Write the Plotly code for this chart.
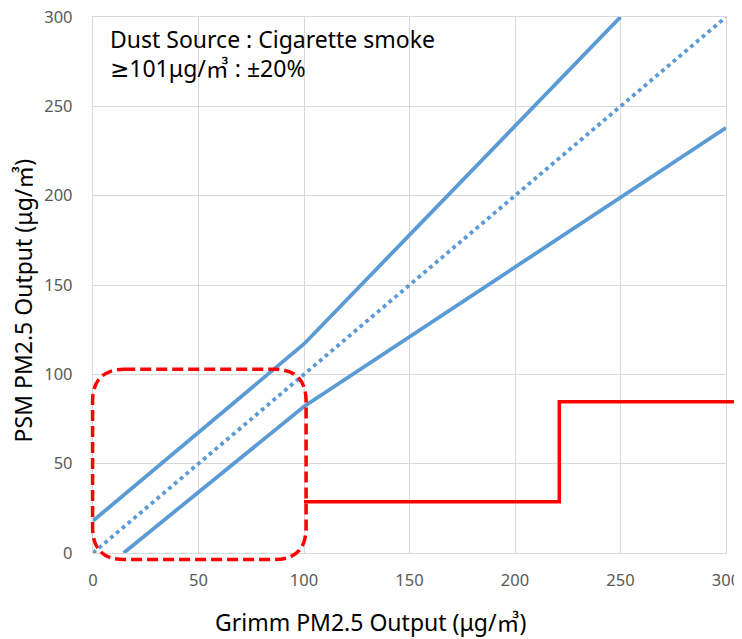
import plotly.graph_objects as go

# Data
ref_x = [0, 300]
ref_y = [0, 300]
upper_x = [0, 100, 250]
upper_y = [18, 117, 300]
lower_x = [14.5, 100, 300]
lower_y = [0, 82, 238]

x_range = [0, 300]
y_range = [0, 300]
tick_vals = [0, 50, 100, 150, 200, 250, 300]

# Highlight markings (data units)
box_x = [-0.2, 101]
box_y = [-3.7, 102.8]
step_x = [100, 221, 221]
step_y = [28.7, 28.7, 84.6]
step_end_paper = 1.03

BLUE = "#5B9BD5"
RED = "#FF0000"
FONT = "Noto Sans, DejaVu Sans, Noto Sans CJK KR"


def px(v):
    return (v - x_range[0]) / (x_range[1] - x_range[0])


def py(v):
    return (v - y_range[0]) / (y_range[1] - y_range[0])


fig = go.Figure()
fig.add_trace(go.Scatter(x=upper_x, y=upper_y, mode="lines",
                         line=dict(color=BLUE, width=3.8), showlegend=False))
fig.add_trace(go.Scatter(x=lower_x, y=lower_y, mode="lines",
                         line=dict(color=BLUE, width=3.8), showlegend=False))
fig.add_trace(go.Scatter(x=ref_x, y=ref_y, mode="lines",
                         line=dict(color=BLUE, width=3.8, dash="dot"), showlegend=False))

# Rounded dashed rectangle (paper coords so it is not clipped)
x0, x1 = px(box_x[0]), px(box_x[1])
y0, y1 = py(box_y[0]), py(box_y[1])
rx = 15 / (x_range[1] - x_range[0])
ry = 18 / (y_range[1] - y_range[0])
path = (f"M {x0+rx},{y1} L {x1-rx},{y1} Q {x1},{y1} {x1},{y1-ry} "
        f"L {x1},{y0+ry} Q {x1},{y0} {x1-rx},{y0} "
        f"L {x0+rx},{y0} Q {x0},{y0} {x0},{y0+ry} "
        f"L {x0},{y1-ry} Q {x0},{y1} {x0+rx},{y1} Z")
fig.add_shape(type="path", path=path, xref="paper", yref="paper",
              line=dict(color=RED, width=3.5, dash="11px,5px"))

# Red step line extending beyond plot area
sp = [(px(a), py(b)) for a, b in zip(step_x, step_y)] + [(step_end_paper, py(step_y[-1]))]
spath = "M " + " L ".join(f"{a},{b}" for a, b in sp)
fig.add_shape(type="path", path=spath, xref="paper", yref="paper",
              line=dict(color=RED, width=3.5))

fig.add_annotation(text="Dust Source : Cigarette smoke",
                   xref="paper", yref="paper", x=0.024, y=0.992,
                   xanchor="left", yanchor="top", align="left", showarrow=False,
                   font=dict(family=FONT, size=23, color="#000000"))
fig.add_annotation(text="≥101μg/㎥ : ±20%",
                   xref="paper", yref="paper", x=0.024, y=0.938,
                   xanchor="left", yanchor="top", align="left", showarrow=False,
                   font=dict(family=FONT, size=23, color="#000000"))

# Axis titles (placed as annotations to match the reference offsets)
fig.add_annotation(text="Grimm PM2.5 Output (μg/㎥)", xref="paper", yref="paper",
                   x=0.439, y=-0.129, xanchor="center", yanchor="middle", showarrow=False,
                   font=dict(family=FONT, size=23, color="#000000"))
fig.add_annotation(text="PSM PM2.5 Output (μg/㎥)", xref="paper", yref="paper",
                   x=-0.110, y=0.472, xanchor="center", yanchor="middle", showarrow=False,
                   textangle=-90, font=dict(family=FONT, size=23, color="#000000"))

axis_common = dict(showgrid=True, gridcolor="#D9D9D9", gridwidth=1.3,
                   zeroline=False, showline=True, linecolor="#D9D9D9", linewidth=1.3,
                   mirror=True, tickvals=tick_vals, ticks="", automargin=False,
                   ticklabeloverflow="allow",
                   tickfont=dict(family=FONT, size=16.5, color="#595959"))

fig.update_layout(
    width=734, height=631,
    margin=dict(l=85, r=16, t=9, b=86),
    plot_bgcolor="white", paper_bgcolor="white",
    xaxis=dict(range=x_range, ticklabelstandoff=12, **axis_common),
    yaxis=dict(range=y_range, ticklabelstandoff=16, **axis_common),
)

fig.write_html("out.html")
